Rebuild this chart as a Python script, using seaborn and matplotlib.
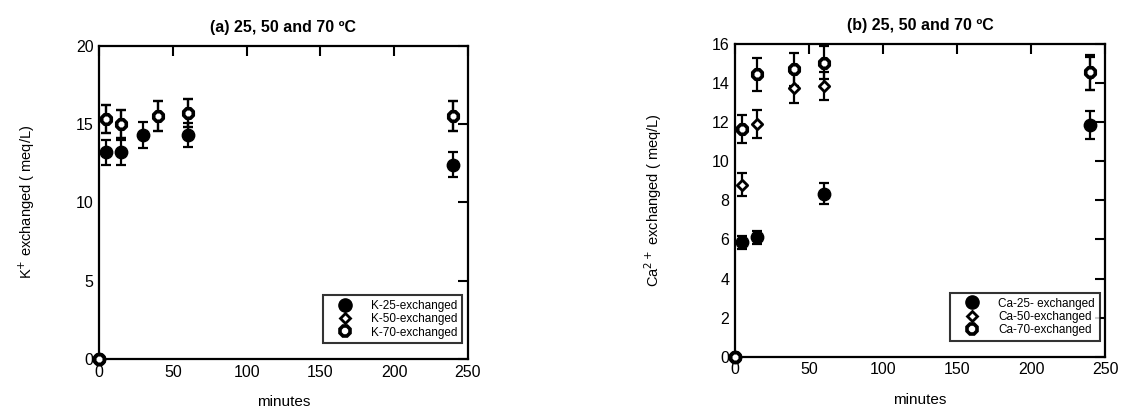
import matplotlib
matplotlib.use("Agg")
import matplotlib.pyplot as plt
from matplotlib.lines import Line2D
import seaborn as sns
import pandas as pd

# ---- data: time (minutes), exchanged amount (meq/L), error ----
k25_t = [0, 5, 15, 30, 60, 240]
k25_v = [0, 13.2, 13.2, 14.3, 14.3, 12.4]
k25_e = [0, 0.8, 0.8, 0.8, 0.75, 0.8]

k50_t = [0, 5, 15, 40, 60, 240]
k50_v = [0, 15.3, 15.0, 15.5, 15.7, 15.5]
k50_e = [0, 0.9, 0.9, 0.95, 0.9, 0.95]

k70_t = [0, 5, 15, 40, 60, 240]
k70_v = [0, 15.3, 15.0, 15.5, 15.7, 15.5]
k70_e = [0, 0.9, 0.9, 0.95, 0.9, 0.95]

ca25_t = [0, 5, 15, 60, 240]
ca25_v = [0, 5.85, 6.1, 8.35, 11.85]
ca25_e = [0, 0.35, 0.35, 0.55, 0.7]

ca50_t = [0, 5, 15, 40, 60, 240]
ca50_v = [0, 8.8, 11.9, 13.75, 13.85, 14.5]
ca50_e = [0, 0.6, 0.7, 0.75, 0.7, 0.85]

ca70_t = [0, 5, 15, 40, 60, 240]
ca70_v = [0, 11.65, 14.45, 14.7, 15.05, 14.55]
ca70_e = [0, 0.7, 0.85, 0.85, 0.85, 0.88]

k_labels = ["K-25-exchanged", "K-50-exchanged", "K-70-exchanged"]
ca_labels = ["Ca-25- exchanged", "Ca-50-exchanged", "Ca-70-exchanged"]

x_ticks = [0, 50, 100, 150, 200, 250]
k_yticks = [0, 5, 10, 15, 20]
ca_yticks = [0, 2, 4, 6, 8, 10, 12, 14, 16]

sns.set_theme(style="white")
plt.rcParams["font.family"] = ["Liberation Sans", "DejaVu Sans"]
plt.rcParams["text.color"] = "black"
plt.rcParams["axes.labelcolor"] = "black"

fig = plt.figure(figsize=(11.22, 4.12), dpi=100)
ax1 = fig.add_axes([0.0882, 0.1286, 0.3289, 0.7604])
ax2 = fig.add_axes([0.6551, 0.1342, 0.3298, 0.7590])

# marker styles: filled circle, open diamond, open octagon
styles = [
    dict(marker="o", s=80, facecolor="black", edgecolor="black", linewidth=1.0),
    dict(marker="D", s=28, facecolor="white", edgecolor="black", linewidth=2.0),
    dict(marker="8", s=55, facecolor="white", edgecolor="black", linewidth=2.6),
]


def draw_panel(ax, series, labels, yticks, ymax, ylabel, title, ylabelpad):
    for (t, v, e), st, lab in zip(series, styles, labels):
        df = pd.DataFrame({"minutes": t, "value": v, "err": e})
        ax.errorbar(df["minutes"], df["value"], yerr=df["err"], fmt="none",
                    ecolor="black", elinewidth=1.6, capsize=3.5, capthick=1.6,
                    clip_on=False, zorder=2)
        sns.scatterplot(data=df, x="minutes", y="value", ax=ax, clip_on=False,
                        zorder=3, legend=False, **st)
    ax.set_xlim(0, 250)
    ax.set_ylim(0, ymax)
    ax.set_xticks(x_ticks)
    ax.set_yticks(yticks)
    ax.tick_params(direction="in", length=7, width=1.5, top=True, right=True,
                   labeltop=False, labelright=False, labelsize=11.5, pad=4,
                   colors="black")
    for sp in ax.spines.values():
        sp.set_linewidth(1.6)
        sp.set_color("black")
    ax.set_xlabel("minutes", fontsize=11, labelpad=11, color="black")
    ax.set_ylabel(ylabel, fontsize=10.5, labelpad=ylabelpad, color="black")
    ax.set_title(title, fontsize=11.5, fontweight="bold", pad=10, color="black")

    handles = []
    for st, lab in zip(styles, labels):
        ms = {"o": 9.5, "D": 5.5, "8": 8}[st["marker"]]
        handles.append(Line2D([], [], linestyle="none", marker=st["marker"],
                              markersize=ms, markerfacecolor=st["facecolor"],
                              markeredgecolor="black",
                              markeredgewidth=st["linewidth"], label=lab))
    leg = ax.legend(handles=handles, loc="lower right", fontsize=8.5,
                    frameon=True, fancybox=False, edgecolor="black",
                    borderpad=0.4, labelspacing=0.12, handlelength=3.0,
                    handletextpad=0.7, bbox_to_anchor=(0.985, 0.05),
                    borderaxespad=0, labelcolor="black")
    leg.get_frame().set_linewidth(1.5)


draw_panel(ax1, [(k25_t, k25_v, k25_e), (k50_t, k50_v, k50_e), (k70_t, k70_v, k70_e)],
           k_labels, k_yticks, 20, "K$^{+}$ exchanged ( meq/L)",
           "(a) 25, 50 and 70 ºC", 28)
draw_panel(ax2, [(ca25_t, ca25_v, ca25_e), (ca50_t, ca50_v, ca50_e), (ca70_t, ca70_v, ca70_e)],
           ca_labels, ca_yticks, 16, "Ca$^{2+}$ exchanged ( meq/L)",
           "(b) 25, 50 and 70 ºC", 34)

fig.savefig("out.png", dpi=100)
